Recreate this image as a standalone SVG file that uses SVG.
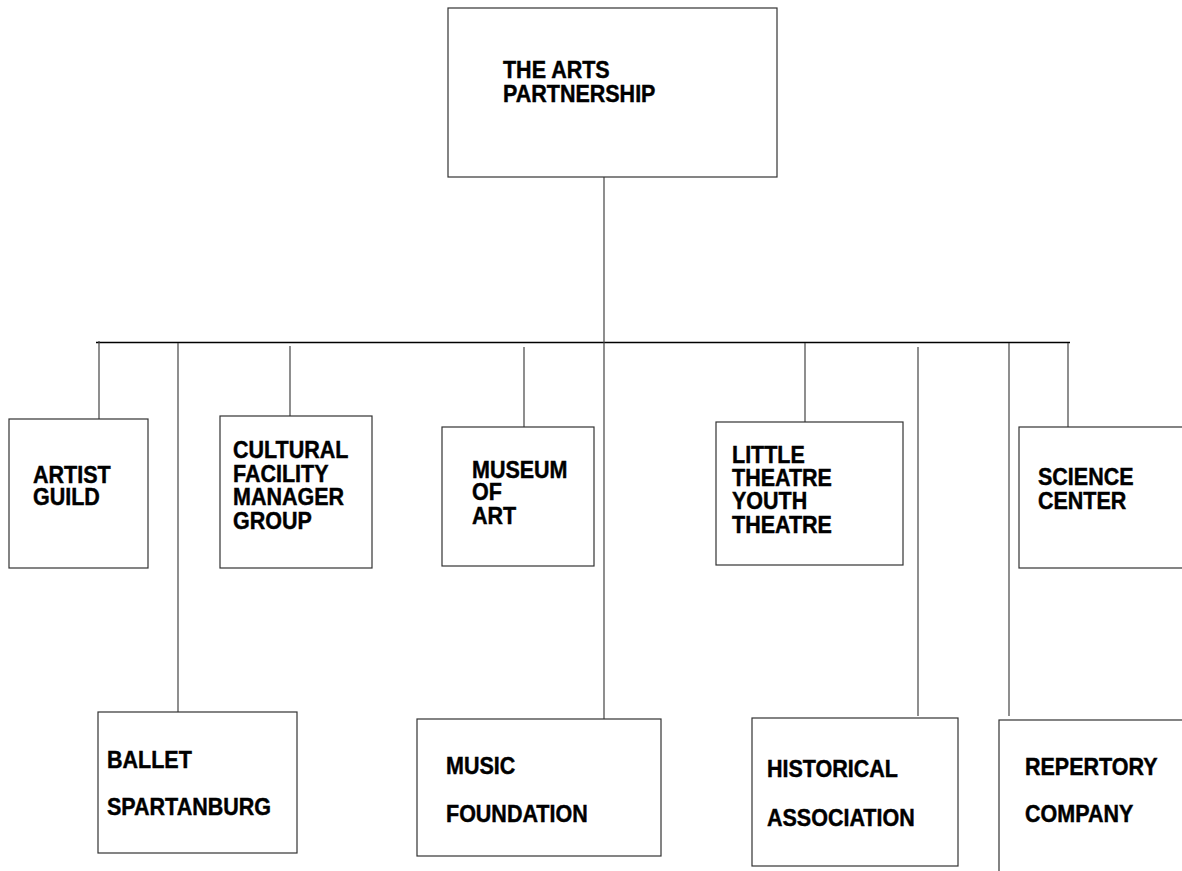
<svg xmlns="http://www.w3.org/2000/svg" width="1182" height="871" viewBox="0 0 1182 871">
<style>
.box{fill:#fff;stroke:#333;stroke-width:1.2}
.t{font-family:"Liberation Sans",Arial,Helvetica,sans-serif;font-weight:bold;font-size:21.5px;fill:#000;stroke:#000;stroke-width:0.4;transform-box:fill-box;transform-origin:0 100%;transform:scaleY(1.1)}
.c{stroke:#444;stroke-width:1.2;fill:none}
.h{stroke:#000;stroke-width:1.5;fill:none}
</style>
<rect width="1182" height="871" fill="#fff"/>
<g id="connectors">
<line class="h" x1="96" y1="342.5" x2="1070" y2="342.5"/>
<line class="c" x1="604" y1="177" x2="604" y2="720"/>
<line class="c" x1="99" y1="341" x2="99" y2="419"/>
<line class="c" x1="178" y1="343" x2="178" y2="712"/>
<line class="c" x1="290" y1="346" x2="290" y2="416"/>
<line class="c" x1="524" y1="347" x2="524" y2="427"/>
<line class="c" x1="805" y1="343" x2="805" y2="424"/>
<line class="c" x1="918" y1="347" x2="918" y2="716"/>
<line class="c" x1="1009" y1="343" x2="1009" y2="716"/>
<line class="c" x1="1068" y1="343" x2="1068" y2="432"/>
</g>
<g id="arts-partnership">
<rect class="box" x="448" y="8" width="329" height="169"/>
<text class="t" x="503" y="78">THE ARTS</text>
<text class="t" x="503" y="102">PARTNERSHIP</text>
</g>
<g id="artist-guild">
<rect class="box" x="9" y="419" width="139" height="149"/>
<text class="t" x="33" y="483">ARTIST</text>
<text class="t" x="33" y="505">GUILD</text>
</g>
<g id="cultural-facility">
<rect class="box" x="220" y="416" width="152" height="152"/>
<text class="t" x="233" y="458">CULTURAL</text>
<text class="t" x="233" y="482">FACILITY</text>
<text class="t" x="233" y="505">MANAGER</text>
<text class="t" x="233" y="529">GROUP</text>
</g>
<g id="museum-of-art">
<rect class="box" x="442" y="427" width="152" height="139"/>
<text class="t" x="472" y="478">MUSEUM</text>
<text class="t" x="472" y="500">OF</text>
<text class="t" x="472" y="524">ART</text>
</g>
<g id="little-theatre">
<rect class="box" x="716" y="422" width="187" height="143"/>
<text class="t" x="732" y="463">LITTLE</text>
<text class="t" x="732" y="486">THEATRE</text>
<text class="t" x="732" y="509">YOUTH</text>
<text class="t" x="732" y="533">THEATRE</text>
</g>
<g id="science-center">
<rect class="box" x="1019" y="427" width="180" height="141"/>
<text class="t" x="1038" y="485">SCIENCE</text>
<text class="t" x="1038" y="509">CENTER</text>
</g>
<g id="ballet-spartanburg">
<rect class="box" x="98" y="712" width="199" height="141"/>
<text class="t" x="107" y="768">BALLET</text>
<text class="t" x="107" y="815">SPARTANBURG</text>
</g>
<g id="music-foundation">
<rect class="box" x="417" y="719" width="244" height="137"/>
<text class="t" x="446" y="774">MUSIC</text>
<text class="t" x="446" y="822">FOUNDATION</text>
</g>
<g id="historical-association">
<rect class="box" x="752" y="718" width="206" height="148"/>
<text class="t" x="767" y="777">HISTORICAL</text>
<text class="t" x="767" y="826">ASSOCIATION</text>
</g>
<g id="repertory-company">
<rect class="box" x="999" y="720" width="200" height="170"/>
<text class="t" x="1025" y="775">REPERTORY</text>
<text class="t" x="1025" y="822">COMPANY</text>
</g>
</svg>
